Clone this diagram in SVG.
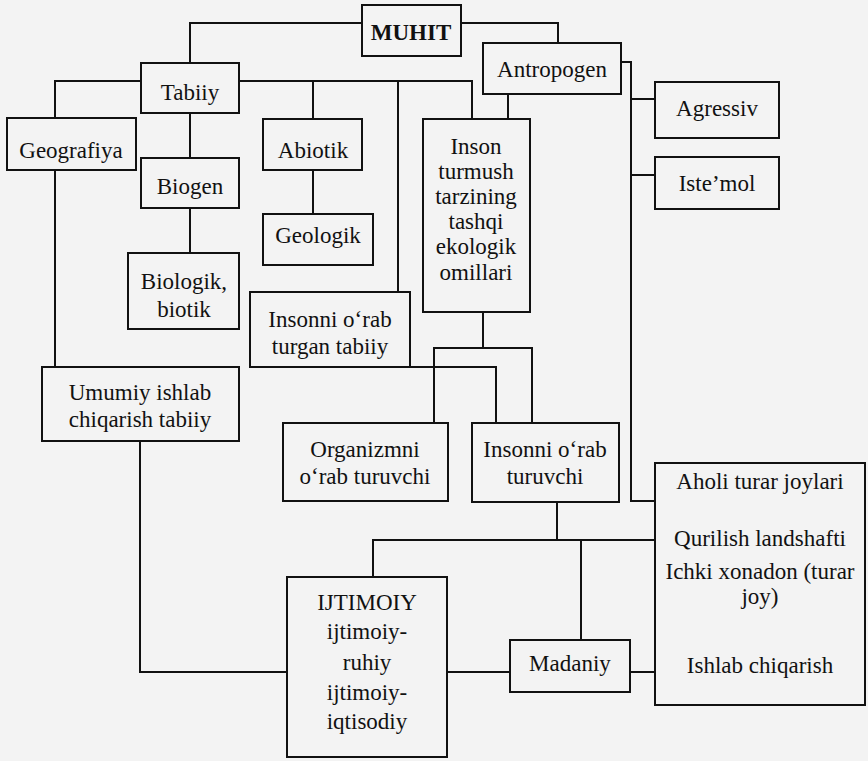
<svg xmlns="http://www.w3.org/2000/svg" width="868" height="761" viewBox="0 0 868 761">
<style>
.box{fill:none;stroke:#111;stroke-width:2}
.c{fill:none;stroke:#111;stroke-width:2}
text{font-family:"Liberation Serif","DejaVu Serif",serif;font-size:23px;fill:#111;text-anchor:middle}
.b{font-weight:bold}
</style>
<rect x="0" y="0" width="868" height="761" fill="#f3f3f3"/>
<g id="connectors">
<polyline class="c" points="362,23 190,23 190,63"/>
<polyline class="c" points="461,23 558,23 558,43"/>
<polyline class="c" points="141,81 55,81 55,118"/>
<polyline class="c" points="239,81 472,81 472,119"/>
<line class="c" x1="313" y1="81" x2="313" y2="119"/>
<line class="c" x1="398" y1="81" x2="398" y2="292"/>
<line class="c" x1="190" y1="113" x2="190" y2="158"/>
<line class="c" x1="190" y1="208" x2="190" y2="253"/>
<line class="c" x1="313" y1="170" x2="313" y2="214"/>
<line class="c" x1="55" y1="170" x2="55" y2="367"/>
<line class="c" x1="508" y1="94" x2="508" y2="119"/>
<polyline class="c" points="621,62 631,62 631,501 655,501"/>
<line class="c" x1="631" y1="99" x2="655" y2="99"/>
<line class="c" x1="631" y1="175" x2="655" y2="175"/>
<line class="c" x1="483" y1="312" x2="483" y2="348"/>
<polyline class="c" points="434,423 434,348 532,348 532,423"/>
<polyline class="c" points="410,367 496,367 496,423"/>
<polyline class="c" points="140,441 140,672 287,672"/>
<line class="c" x1="557" y1="502" x2="557" y2="540"/>
<polyline class="c" points="373,577 373,540 655,540"/>
<line class="c" x1="581" y1="540" x2="581" y2="640"/>
<line class="c" x1="447" y1="672" x2="510" y2="672"/>
<line class="c" x1="630" y1="672" x2="655" y2="672"/>
</g>
<g id="muhit"><rect class="box" x="362" y="5" width="99" height="51"/><text class="b" x="411" y="40">MUHIT</text></g>
<g id="tabiiy"><rect class="box" x="141" y="63" width="98" height="50"/><text x="190" y="100">Tabiiy</text></g>
<g id="antropogen"><rect class="box" x="483" y="43" width="138" height="51"/><text x="552" y="77">Antropogen</text></g>
<g id="geografiya"><rect class="box" x="7" y="118" width="129" height="52"/><text x="71" y="158">Geografiya</text></g>
<g id="abiotik"><rect class="box" x="263" y="119" width="99" height="51"/><text x="313" y="158">Abiotik</text></g>
<g id="biogen"><rect class="box" x="141" y="158" width="98" height="50"/><text x="190" y="194">Biogen</text></g>
<g id="geologik"><rect class="box" x="263" y="214" width="110" height="51"/><text x="318" y="243">Geologik</text></g>
<g id="biologik"><rect class="box" x="128" y="253" width="111" height="76"/><text x="184" y="289">Biologik,</text><text x="184" y="317">biotik</text></g>
<g id="inson"><rect class="box" x="423" y="119" width="107" height="193"/>
<text x="476" y="154">Inson</text><text x="476" y="179">turmush</text><text x="476" y="204">tarzining</text><text x="476" y="229">tashqi</text><text x="476" y="254">ekologik</text><text x="476" y="280">omillari</text></g>
<g id="agressiv"><rect class="box" x="655" y="82" width="124" height="56"/><text x="717" y="116">Agressiv</text></g>
<g id="istemol"><rect class="box" x="655" y="157" width="124" height="52"/><text x="717" y="191">Iste’mol</text></g>
<g id="insonni-turgan"><rect class="box" x="250" y="292" width="160" height="75"/><text x="330" y="327">Insonni o‘rab</text><text x="330" y="354">turgan tabiiy</text></g>
<g id="umumiy"><rect class="box" x="42" y="367" width="197" height="74"/><text x="140" y="400">Umumiy ishlab</text><text x="140" y="427">chiqarish tabiiy</text></g>
<g id="organizmni"><rect class="box" x="283" y="423" width="165" height="78"/><text x="365" y="457">Organizmni</text><text x="365" y="484">o‘rab turuvchi</text></g>
<g id="insonni-turuvchi"><rect class="box" x="472" y="423" width="147" height="79"/><text x="545" y="457">Insonni o‘rab</text><text x="545" y="484">turuvchi</text></g>
<g id="aholi"><rect class="box" x="655" y="463" width="210" height="242"/>
<text x="760" y="489">Aholi turar joylari</text><text x="760" y="546">Qurilish landshafti</text><text x="760" y="579">Ichki xonadon (turar</text><text x="760" y="604">joy)</text><text x="760" y="673">Ishlab chiqarish</text></g>
<g id="ijtimoiy"><rect class="box" x="287" y="577" width="160" height="180"/>
<text x="367" y="610">IJTIMOIY</text><text x="367" y="639">ijtimoiy-</text><text x="367" y="670">ruhiy</text><text x="367" y="700">ijtimoiy-</text><text x="367" y="729">iqtisodiy</text></g>
<g id="madaniy"><rect class="box" x="510" y="640" width="120" height="52"/><text x="570" y="671">Madaniy</text></g>
</svg>
